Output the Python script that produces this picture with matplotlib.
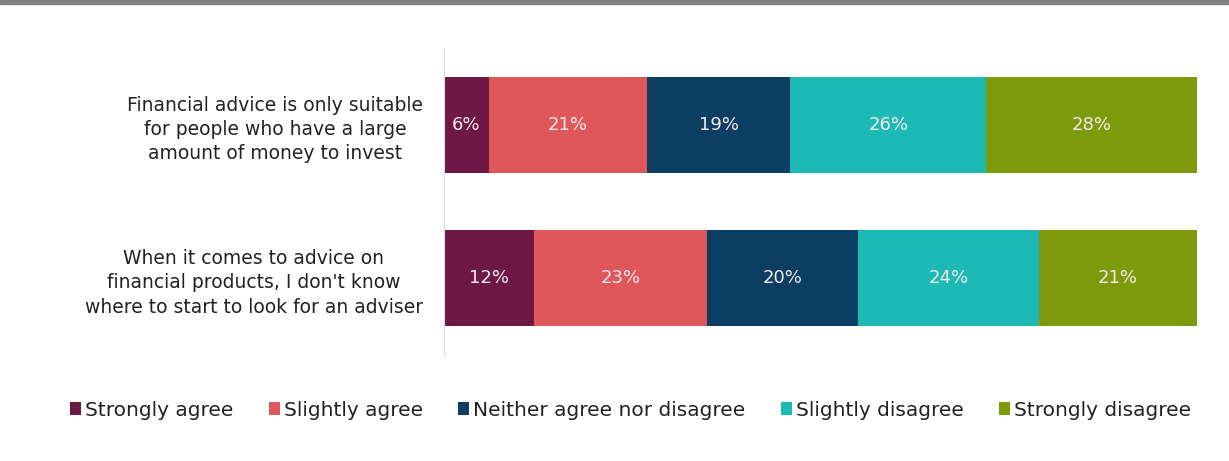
import numpy as np
import matplotlib.pyplot as plt
from matplotlib.patches import Rectangle

statements = [
    "Financial advice is only suitable\nfor people who have a large\namount of money to invest",
    "When it comes to advice on\nfinancial products, I don't know\nwhere to start to look for an adviser",
]
responses = ["Strongly agree", "Slightly agree", "Neither agree nor disagree",
             "Slightly disagree", "Strongly disagree"]
strongly_agree = [6, 12]
slightly_agree = [21, 23]
neither = [19, 20]
slightly_disagree = [26, 24]
strongly_disagree = [28, 21]

series = [strongly_agree, slightly_agree, neither, slightly_disagree, strongly_disagree]
colors = ["#6e1945", "#e0575b", "#0c3d62", "#1dbab5", "#7e9a0b"]

fig = plt.figure(figsize=(12.29, 4.61), dpi=100)
ax = fig.add_axes([0.361, 0.230, 0.613, 0.666])

# grey strip along the top edge
fig.patches.append(Rectangle((0, 1 - 4 / 461), 1, 4 / 461, transform=fig.transFigure,
                             color="#808080", zorder=5))

y = np.arange(len(statements))
left = np.zeros(len(statements))
for vals, color, name in zip(series, colors, responses):
    ax.barh(y, vals, left=left, height=0.625, color=color, label=name)
    for yi, (l, v) in enumerate(zip(left, vals)):
        ax.text(l + v / 2, yi, f"{v}%", ha="center", va="center",
                color="#f6e9ee", fontsize=13)
    left += vals

ax.set_xlim(0, 100)
ax.set_ylim(1.5, -0.5)
ax.set_yticks(y)
ax.set_yticklabels(statements, fontsize=13.5, color="#222222", linespacing=1.36,
                   multialignment="center")
ax.tick_params(axis="y", length=0, pad=15)
ax.set_xticks([])
for side in ["top", "right", "bottom"]:
    ax.spines[side].set_visible(False)
ax.spines["left"].set_color("#d9d9d9")

fig.legend(loc="center", bbox_to_anchor=(0.513, 0.11), ncol=5, frameon=False,
           fontsize=14.5, handlelength=0.55, handleheight=0.65, handletextpad=0.2,
           columnspacing=1.75, labelcolor="#222222")

fig.savefig("out.png", dpi=100)
